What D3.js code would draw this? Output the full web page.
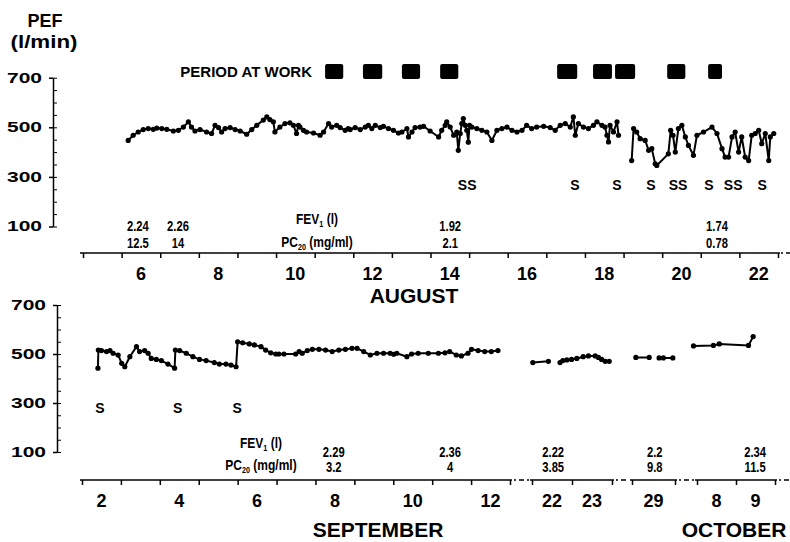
<!DOCTYPE html>
<html lang="en">
<head>
<meta charset="UTF-8">
<title>PEF record</title>
<script src="https://d3js.org/d3.v7.min.js"></script>
<style>
  body { margin: 0; background: #fff; }
  svg { display: block; font-family: "Liberation Sans", Arial, sans-serif; font-weight: bold; }
</style>
</head>
<body>
<svg width="790" height="542"></svg>
<script>
// ---- August (top panel): day of month, PEF l/min (null = gap)
let augDay = [6.17, 6.30, 6.43, 6.56, 6.69, 6.82, 6.91, 7.04, 7.17, 7.34, 7.47, 7.60, 7.73, 7.81, 7.90, 8.03, 8.20, 8.33, 8.42, 8.51,
  8.59, 8.68, 8.81, 8.94, 9.07, 9.24, 9.37, 9.50, 9.67, 9.76, 9.84, 9.93, 9.97, 10.10, 10.23, 10.36, 10.45, 10.53, 10.58, 10.62,
  10.71, 10.79, 10.97, 11.14, 11.23, 11.36, 11.44, 11.57, 11.66, 11.79, 11.87,
  11.92, 12.05, 12.18, 12.31, 12.39, 12.48, 12.57, 12.70, 12.78, 12.91, 13.04, 13.17, 13.26, 13.39, 13.43, 13.52, 13.60, 13.73,
  13.82, 13.99, 14.21, 14.29, 14.38, 14.42, 14.51, 14.60, 14.68, 14.72, 14.77, 14.81, 14.85, 14.90, 14.94, 14.98, 15.01, 15.07,
  15.20, 15.33, 15.46, 15.59, 15.72, 15.85, 15.98, 16.11, 16.24, 16.37, 16.49, 16.62, 16.75, 16.93,
  17.10, 17.23, 17.36, 17.49, 17.62, 17.70, 17.75, 17.83, 17.96, 18.09, 18.22, 18.31, 18.44, 18.52, 18.57, 18.61, 18.65, 18.74,
  18.83, 18.87, 19.0,
  19.21, 19.26, 19.34, 19.43, 19.56, 19.65, 19.73, 19.82, 19.86, 20.16, 20.22, 20.28, 20.34, 20.42, 20.51, 20.60, 20.68, 20.81,
  20.90, 21.07, 21.29, 21.42, 21.55, 21.63, 21.72, 21.81, 21.89, 21.98, 22.06, 22.15, 22.24, 22.32, 22.41, 22.50, 22.58, 22.67,
  22.76, 22.80, 22.89];
let augPef = [447, 468, 481, 491, 495, 492, 497, 495, 492, 485, 488, 501, 522, 501, 485, 491, 481, 475, 508, 499,
  481, 495, 499, 491, 485, 472, 491, 508, 529, 542, 531, 522, 481, 501, 515, 518, 508, 475, 508, 501,
  488, 481, 477, 468, 481, 515, 501, 508, 499, 488, 495,
  491, 499, 491, 501, 508, 495, 508, 499, 504, 495, 488, 477, 481, 495, 461, 481, 499, 501,
  504, 485, 461, 488, 508, 522, 501, 468, 481, 407, 475, 515, 535, 508, 488, 440, 508, 501,
  495, 488, 481, 447, 488, 495, 501, 488, 481, 488, 508, 495, 501, 504,
  499, 488, 508, 515, 501, 542, 468, 515, 501, 495, 508, 522, 508, 501, 468, 441, 508, 481,
  522, 468, null,
  366, 495, 481, 454, 447, 407, 414, 353, 346, 393, 488, 468, 400, 495, 508, 461, 427, 387,
  468, 481, 501, 475, 414, 380, 380, 461, 481, 400, 461, 380, 366, 468, 475, 488, 434, 475,
  366, 461, 475];

// ---- September / October (bottom panel): Sept day, Oct day = 30 + day
let sepDay = [2.41, 2.42, 2.50, 2.63, 2.72, 2.80, 2.93, 3.02, 3.10, 3.23, 3.40, 3.48, 3.61, 3.70, 3.78, 3.91, 4.04, 4.21, 4.38, 4.40,
  4.51, 4.68, 4.85, 5.02, 5.19, 5.40, 5.53, 5.70, 5.83, 5.96, 6.00, 6.13, 6.30, 6.43, 6.60, 6.72, 6.85, 6.98, 7.06, 7.19,
  7.49, 7.58, 7.66, 7.79, 7.92, 8.09, 8.26, 8.43, 8.60, 8.77, 8.94, 9.07, 9.24, 9.41, 9.58, 9.75, 9.92, 10.01, 10.09, 10.35,
  10.47, 10.64, 10.90, 11.16, 11.33, 11.45, 11.62, 11.75, 11.92, 12.01, 12.18, 12.35, 12.52, 12.69, 13.0,
  22.02, 22.41, 22.5, 22.70, 22.77, 22.87, 22.99, 23.12, 23.28, 23.41, 23.58, 23.66, 23.74, 23.83, 23.93, 24.0,
  29.09, 29.40, 29.5, 29.63, 29.73, 29.95, 30.0,
  37.91, 38.42, 38.57, 39.32, 39.44];
let sepPef = [442, 516, 514, 510, 514, 503, 496, 462, 448, 489, 530, 510, 514, 503, 482, 478, 473, 459, 442, 516,
  514, 503, 489, 478, 473, 465, 459, 459, 455, 448, 550, 546, 541, 537, 530, 516, 505, 500, 500, 500,
  500, 510, 503, 514, 519, 519, 516, 510, 516, 519, 523, 523, 510, 496, 503, 503, 503, 499, 503, 489,
  500, 503, 503, 503, 505, 510, 496, 492, 503, 519, 514, 510, 510, 514, null,
  465, 470, null, 465, 473, 476, 478, 482, 489, 492, 492, 486, 478, 470, 470, null,
  486, 486, null, 484, 484, 484, null,
  533, 535, 541, 535, 571];

// periods at work (August days)
let workStart = [11.27, 12.25, 13.26, 14.25, 17.28, 18.21, 18.78, 20.13, 21.19];
let workEnd = [11.74, 12.75, 13.73, 14.72, 17.80, 18.70, 19.30, 20.60, 21.55];

// symptom marks
let sAugDay = [14.95, 17.74, 18.83, 19.71, 20.41, 21.21, 21.84, 22.59];
let sAugText = ["SS", "S", "S", "S", "SS", "S", "SS", "S"];
let sSepDay = [2.46, 4.46, 5.99];

// FEV1 and PC20 readings
let augTestDay = [6.42, 7.46, 14.51, 21.42];
let augFev = ["2.24", "2.26", "1.92", "1.74"];
let augPc20 = ["12.5", "14", "2.1", "0.78"];
let sepTestDay = [8.47, 11.46, 22.53, 29.53, 39.49];
let sepFev = ["2.29", "2.36", "2.22", "2.2", "2.34"];
let sepPc20 = ["3.2", "4", "3.85", "9.8", "11.5"];

// tick labels
let augTicks = [6, 8, 10, 12, 14, 16, 18, 20, 22];
let sepTicks = [2, 4, 6, 8, 10, 12, 22, 23, 29, 38, 39];
let sepTickText = ["2", "4", "6", "8", "10", "12", "22", "23", "29", "8", "9"];
let yMajor = [100, 300, 500, 700];

let svg = d3.select('svg');

// scales
let xTop = d3.scaleLinear().domain([5, 23]).range([83, 778]);
let yTop = d3.scaleLinear().domain([100, 700]).range([226.5, 77.7]);
let yBot = d3.scaleLinear().domain([100, 700]).range([452, 305]);

let segs = [
  {d: [2, 13], r: [82, 510]},
  {d: [22, 24], r: [532, 612]},
  {d: [29, 30], r: [632, 675]},
  {d: [38, 40], r: [697, 775]}
];
segs.forEach(s => s.scale = d3.scaleLinear().domain(s.d).range(s.r));
function xBot(day) {
  let s = segs.find(s => day >= s.d[0] - 0.5 && day <= s.d[1] + 0.5);
  return s.scale(day);
}

// ---- y axes
function yAxis(scale, x) {
  svg.append('g').attr('transform', 'translate(' + x + ',0)')
    .call(d3.axisRight(scale).tickValues(d3.range(100, 701, 50)).tickSize(4).tickSizeOuter(0).tickFormat(''))
    .call(g => g.select('.domain').attr('stroke-width', 1.5));
  let g = svg.append('g').attr('transform', 'translate(' + x + ',0)')
    .call(d3.axisLeft(scale).tickValues(yMajor).tickSize(4).tickPadding(7));
  g.select('.domain').remove();
  g.selectAll('line').attr('stroke-width', 1.5);
  g.selectAll('text')
    .attr('font-family', '"Liberation Sans", Arial, sans-serif')
    .attr('font-weight', 'bold')
    .attr('font-size', 14)
    .attr('textLength', 35)
    .attr('lengthAdjust', 'spacingAndGlyphs')
    .attr('fill', '#000');
}
yAxis(yTop, 53);
yAxis(yBot, 57);

svg.append('text').attr('x', 45).attr('y', 27).attr('text-anchor', 'middle')
  .attr('font-size', 18).text('PEF');
svg.append('text').attr('x', 44).attr('y', 48).attr('text-anchor', 'middle')
  .attr('font-size', 19).attr('textLength', 67).attr('lengthAdjust', 'spacingAndGlyphs').text('(l/min)');

// ---- x axes
function dashLine(x1, x2, y) {
  svg.append('line').attr('x1', x1).attr('x2', x2).attr('y1', y).attr('y2', y)
    .attr('stroke', '#000').attr('stroke-width', 1.5).attr('stroke-dasharray', '2,3,5,3');
}
let gt = svg.append('g').attr('transform', 'translate(0,253)')
  .call(d3.axisBottom(xTop).tickValues(d3.range(5, 24)).tickSize(5).tickSizeOuter(0).tickFormat(''));
gt.selectAll('line').attr('stroke-width', 1.5);
gt.select('.domain').remove();
svg.append('line').attr('x1', 80).attr('x2', 780).attr('y1', 253).attr('y2', 253)
  .attr('stroke', '#000').attr('stroke-width', 1.5);
dashLine(781, 790, 253);

svg.selectAll('.augTick').data(augTicks).enter().append('text')
  .attr('x', d => xTop(d + 0.5)).attr('y', 280).attr('text-anchor', 'middle')
  .attr('font-size', 18).text(d => d);
svg.append('text').attr('x', 414).attr('y', 303).attr('text-anchor', 'middle')
  .attr('font-size', 21).text('AUGUST');

segs.forEach((s, i) => {
  let g = svg.append('g').attr('transform', 'translate(0,480)')
    .call(d3.axisBottom(s.scale).tickValues(d3.range(s.d[0], s.d[1] + 1)).tickSize(5).tickSizeOuter(0).tickFormat(''));
  g.selectAll('line').attr('stroke-width', 1.5);
  g.select('.domain').remove();
  svg.append('line').attr('x1', s.r[0] - 2).attr('x2', s.r[1] + 2).attr('y1', 480).attr('y2', 480)
    .attr('stroke', '#000').attr('stroke-width', 1.5);
  let next = segs[i + 1];
  dashLine(s.r[1] + 4, next ? next.r[0] - 3 : 790, 480);
});
svg.selectAll('.sepTick').data(sepTicks).enter().append('text')
  .attr('x', d => xBot(d + 0.5)).attr('y', 507).attr('text-anchor', 'middle')
  .attr('font-size', 18).text((d, i) => sepTickText[i]);
svg.append('text').attr('x', 378).attr('y', 537).attr('text-anchor', 'middle')
  .attr('font-size', 21).text('SEPTEMBER');
svg.append('text').attr('x', 734).attr('y', 537).attr('text-anchor', 'middle')
  .attr('font-size', 21).text('OCTOBER');

// ---- period at work
svg.append('text').attr('x', 312).attr('y', 77).attr('text-anchor', 'end')
  .attr('font-size', 15).text('PERIOD AT WORK');
svg.selectAll('.work').data(workStart).enter().append('rect')
  .attr('x', d => xTop(d)).attr('width', (d, i) => xTop(workEnd[i]) - xTop(d))
  .attr('y', 64).attr('height', 15).attr('rx', 2).attr('fill', '#000');

// ---- PEF curves
function curve(days, pef, xs, ys) {
  let pts = days.map((d, i) => ({d: d, v: pef[i]}));
  let line = d3.line().defined(p => p.v != null).x(p => xs(p.d)).y(p => ys(p.v));
  svg.append('path').datum(pts).attr('d', line)
    .attr('fill', 'none').attr('stroke', '#000').attr('stroke-width', 2).attr('stroke-linejoin', 'round');
  svg.append('g').selectAll('circle').data(pts.filter(p => p.v != null)).enter().append('circle')
    .attr('cx', p => xs(p.d)).attr('cy', p => ys(p.v)).attr('r', 2.6).attr('fill', '#000');
}
curve(augDay, augPef, xTop, yTop);
curve(sepDay, sepPef, xBot, yBot);

// ---- symptom marks
svg.selectAll('.sAug').data(sAugDay).enter().append('text')
  .attr('x', d => xTop(d)).attr('y', 190).attr('text-anchor', 'middle')
  .attr('font-size', 14).text((d, i) => sAugText[i]);
svg.selectAll('.sSep').data(sSepDay).enter().append('text')
  .attr('x', d => xBot(d)).attr('y', 413).attr('text-anchor', 'middle')
  .attr('font-size', 14).text('S');

// ---- FEV1 / PC20 annotations (condensed look: squeeze horizontally)
function narrowText(x, y, size) {
  return svg.append('g').attr('transform', 'translate(' + x + ',' + y + ') scale(0.8,1)')
    .append('text').attr('text-anchor', 'middle').attr('font-size', size);
}
function testLabel(x, y1, y2) {
  let t1 = narrowText(x, y1, 15);
  t1.append('tspan').text('FEV');
  t1.append('tspan').attr('font-size', 9).attr('dy', 3).text('1');
  t1.append('tspan').attr('dy', -3).text(' (l)');
  let t2 = narrowText(x, y2, 15);
  t2.append('tspan').text('PC');
  t2.append('tspan').attr('font-size', 9).attr('dy', 3).text('20');
  t2.append('tspan').attr('dy', -3).text(' (mg/ml)');
}
testLabel(xTop(11.06), 224, 247);
testLabel(xBot(6.60), 448, 470);

function testValues(days, fev, pc, xs, y1, y2) {
  days.forEach((d, i) => {
    narrowText(xs(d), y1, 14).text(fev[i]);
    narrowText(xs(d), y2, 14).text(pc[i]);
  });
}
testValues(augTestDay, augFev, augPc20, xTop, 231, 248);
testValues(sepTestDay, sepFev, sepPc20, xBot, 457, 472);
</script>
</body>
</html>
